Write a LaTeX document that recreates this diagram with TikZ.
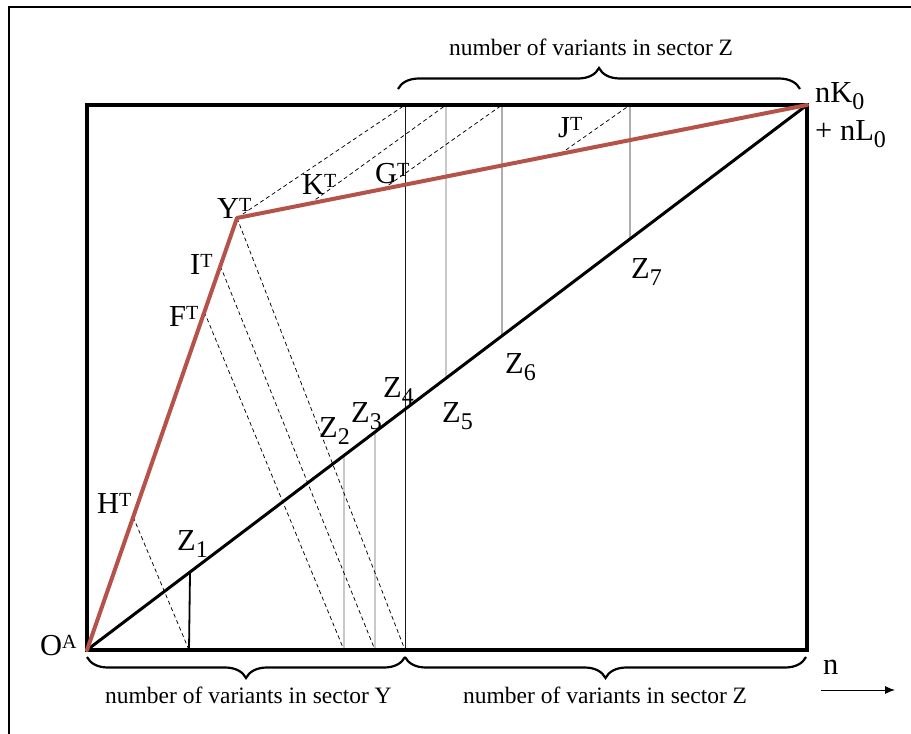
\documentclass[tikz,border=0pt]{standalone}
\usepackage{fontspec}
\setmainfont{Liberation Serif}
\usetikzlibrary{decorations.pathreplacing,arrows.meta,calc}
\definecolor{redline}{RGB}{181,83,74}
\newcommand\mysup[1]{\raisebox{7pt}{\fontsize{20}{20}\selectfont #1}}
\newcommand\mysub[1]{\raisebox{-7pt}{\fontsize{24}{24}\selectfont #1}}
\begin{document}
\begin{tikzpicture}[x=1pt,y=-1pt,
  lbl/.style={font=\fontsize{30.5}{34}\selectfont, inner sep=0pt, anchor=base west},
  txt/.style={font=\fontsize{23.5}{28}\selectfont, inner sep=0pt, anchor=base west},
  boxline/.style={line width=3.2pt},
  redl/.style={draw=redline, line width=4pt, line join=round, line cap=round},
  diag/.style={line width=3pt},
  vline/.style={line width=0.9pt, draw=black!90},
  vlight/.style={line width=0.9pt, draw=black!60},
  dline/.style={line width=0.75pt, dash pattern=on 4pt off 3pt},
  brc/.style={decorate, decoration={brace, amplitude=21pt}, line width=2.2pt}]
\useasboundingbox (0,0) rectangle (911,734);
% outer frame (partially visible)
\draw[line width=2pt] (9,734) -- (9,7) -- (911,7);
% key coordinates
\coordinate (O) at (87,650);
\coordinate (TR) at (807,105);
\coordinate (TL) at (87,105);
\coordinate (BR) at (807,650);
\coordinate (Y) at (237,218);
% points on red line
\coordinate (H) at ($(O)!0.3079!(Y)$);
\coordinate (F) at ($(O)!0.7824!(Y)$);
\coordinate (I) at ($(O)!0.8889!(Y)$);
\coordinate (K) at ($(Y)!0.128!(TR)$);
\coordinate (G) at ($(Y)!0.256!(TR)$);
\coordinate (J) at ($(Y)!0.567!(TR)$);
% points on diagonal
\coordinate (Z1) at ($(O)!0.1431!(TR)$);
\coordinate (Z2) at ($(O)!0.3569!(TR)$);
\coordinate (Z3) at ($(O)!0.4!(TR)$);
\coordinate (Z5) at ($(O)!0.4986!(TR)$);
\coordinate (Z6) at ($(O)!0.5764!(TR)$);
\coordinate (Z7) at ($(O)!0.7542!(TR)$);
% bottom and top feet
\coordinate (B1) at (189,650);
\coordinate (B2) at (344,650);
\coordinate (B3) at (375,650);
\coordinate (B4) at (405,650);
\coordinate (T4) at (405,105);
\coordinate (T5) at (446,105);
\coordinate (T6) at (502,105);
\coordinate (T7) at (630,105);
% vertical lines
\draw[line width=1.8pt] (Z1) -- (B1);
\draw[vlight] (Z2) -- (B2);
\draw[vlight] (Z3) -- (B3);
\draw[vline] (B4) -- (T4);
\draw[vlight] (Z5) -- (T5);
\draw[vline] (Z6) -- (T6);
\draw[vline] (Z7) -- (T7);
% dashed lines
\draw[dline] (H) -- (B1);
\draw[dline] (F) -- (B2);
\draw[dline] (I) -- (B3);
\draw[dline] (Y) -- (B4);
\draw[dline] (Y) -- (T4);
\draw[dline] (K) -- (T5);
\draw[dline] (G) -- (T6);
\draw[dline] (J) -- (T7);
% main lines
\draw[diag] (O) -- (TR);
\draw[boxline] (TL) rectangle (BR);
\draw[redl] (O) -- (Y) -- (TR);
% labels
\node[lbl] (lO) at (40,655) {O\mysup{A}};
\node[lbl] (lH) at (97,513) {H\mysup{T}};
\node[lbl] (lF) at (169,326) {F\mysup{T}};
\node[lbl] (lI) at (190,274) {I\mysup{T}};
\node[lbl] (lY) at (217,218) {Y\mysup{T}};
\node[lbl] (lK) at (302,194) {K\mysup{T}};
\node[lbl] (lG) at (375,183) {G\mysup{T}};
\node[lbl] (lJ) at (558,137) {J\mysup{T}};
\node[lbl] (lnK) at (815,102) {nK\mysub{0}};
\node[lbl] (lnL) at (815,140) {+ nL\mysub{0}};
\node[lbl] (lZ1) at (177,550) {Z\mysub{1}};
\node[lbl] (lZ2) at (319,437) {Z\mysub{2}};
\node[lbl] (lZ3) at (351,422) {Z\mysub{3}};
\node[lbl] (lZ4) at (383,397) {Z\mysub{4}};
\node[lbl] (lZ5) at (442,422) {Z\mysub{5}};
\node[lbl] (lZ6) at (505,373) {Z\mysub{6}};
\node[lbl] (lZ7) at (631,278) {Z\mysub{7}};
\node[lbl] (ln) at (823,674) {n};
% axis arrow
\coordinate (A1) at (821,690);
\coordinate (A2) at (895,690);
\draw[line width=1pt, -{Latex[length=10pt,width=8pt]}] (A1) -- (A2);
% braces
\coordinate (BT1) at (398,89);
\coordinate (BT2) at (800,89);
\coordinate (BB0) at (87,657);
\coordinate (BB1) at (405,657);
\coordinate (BB2) at (806,657);
\draw[brc] (BT1) -- (BT2);
\draw[brc] (BB1) -- (BB0);
\draw[brc] (BB2) -- (BB1);
\node[txt] (tTop) at (449,55) {number of variants in sector Z};
\node[txt] (tY) at (105,703) {number of variants in sector Y};
\node[txt] (tZ) at (463,703) {number of variants in sector Z};
\end{tikzpicture}
\end{document}
